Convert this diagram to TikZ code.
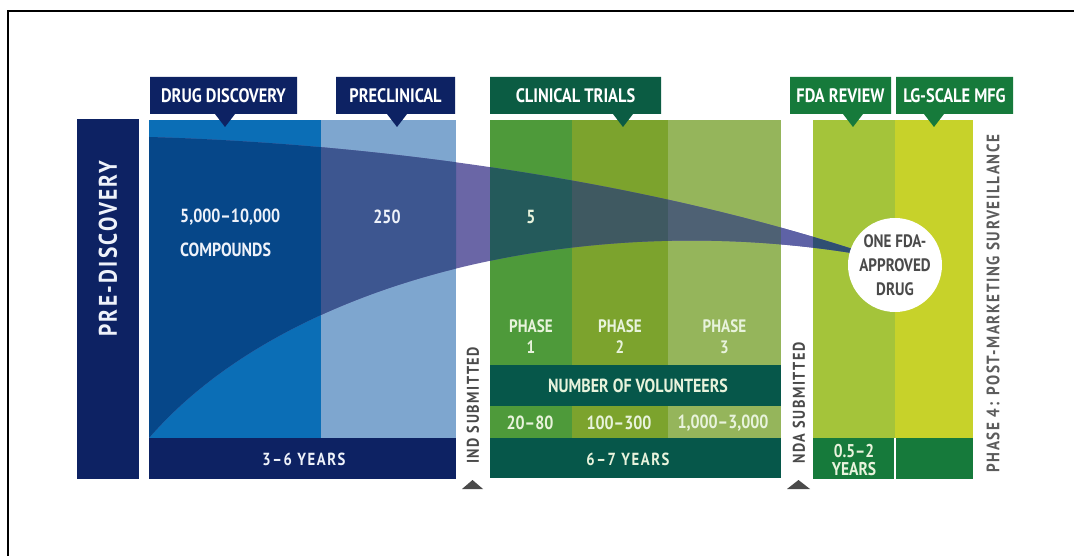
\documentclass[tikz,border=0pt]{standalone}
\usepackage{fontspec}
\setmainfont{PT Sans}
\newfontfamily\cond{PT Sans}[FakeStretch=0.84]
\newfontfamily\condsp{PT Sans}[FakeStretch=0.84,LetterSpace=9]

% palette
\definecolor{navy}{HTML}{0D2263}
\definecolor{ddblue}{HTML}{0B6EB6}
\definecolor{ddcov}{HTML}{064789}
\definecolor{pcblue}{HTML}{7EA6CF}
\definecolor{pccov}{HTML}{3D5690}
\definecolor{gapcov}{HTML}{6A66A6}
\definecolor{pone}{HTML}{4E9A3A}
\definecolor{ponecov}{HTML}{245A5B}
\definecolor{ptwo}{HTML}{7CA32D}
\definecolor{ptwocov}{HTML}{3F5961}
\definecolor{pthree}{HTML}{95B55B}
\definecolor{pthreecov}{HTML}{4E6174}
\definecolor{gapcovb}{HTML}{5E62A6}
\definecolor{fdagreen}{HTML}{A4C43A}
\definecolor{fdacov}{HTML}{2F4F72}
\definecolor{lggreen}{HTML}{C7D22A}
\definecolor{teal}{HTML}{06574A}
\definecolor{ctgreen}{HTML}{0B5C43}
\definecolor{hdgreen}{HTML}{167A3B}
\definecolor{bluetext}{HTML}{EEF2FA}
\definecolor{greentext}{HTML}{E8F3DC}
\definecolor{darkgraytext}{HTML}{4A4A4A}
\definecolor{sidegray}{HTML}{5C5C5C}

% band of compounds narrowing to the approved drug
\def\funnelpath{(149,137) .. controls (330,142) and (620,170) .. (880,258)
  .. controls (600,205) and (290,275) .. (149,438) -- cycle}

% header tab with a downward pointer: name, left, right, pointer x, colour, text
\newcommand\hdrtab[6]{%
  \fill[#5] (#2,77) -- (#3,77) -- (#3,114) -- ({#4+10},114) -- (#4,127)
    -- ({#4-10},114) -- (#2,114) -- cycle;
  \node[hdrtext] (#1) at ({(#2+#3)/2},95.5) {#6};}

% funnel section clipped to one column: left, right, colour
\newcommand\covered[3]{%
  \begin{scope}
    \clip (#1,120) rectangle (#2,438);
    \fill[#3] \funnelpath;
  \end{scope}}

\begin{document}
\begin{tikzpicture}[x=1pt,y=-1pt,
  hdrtext/.style={text=white, font=\cond\bfseries\fontsize{19.5}{21}\selectfont, inner sep=0pt},
  coltext/.style={text=#1, font=\cond\bfseries\fontsize{19}{21}\selectfont, inner sep=0pt},
  phasetext/.style={text=greentext, font=\cond\bfseries\fontsize{18}{21}\selectfont, inner sep=0pt, align=center},
  yeartext/.style={text=#1, font=\condsp\bfseries\fontsize{17.5}{21}\selectfont, inner sep=0pt},
  sidetext/.style={text=darkgraytext, font=\condsp\bfseries\fontsize{17}{18}\selectfont, inner sep=0pt, rotate=90},
  marker/.style={fill=darkgraytext}]
\useasboundingbox (0,0) rectangle (1074,556);
\fill[white] (0,0) rectangle (1074,556);
\draw[line width=2pt] (8,556) -- (8,11) -- (1074,11);

% pre-discovery bar
\fill[navy] (77,119) rectangle (139,479);
\node[text=bluetext, font=\condsp\bfseries\fontsize{25.5}{28}\selectfont, inner sep=0pt, rotate=90]
  (pre) at (108,248.5) {PRE-DISCOVERY};

% discovery and preclinical columns
\fill[ddblue] (149,120) rectangle (321,438);
\fill[pcblue] (321,120) rectangle (456,438);
\fill[navy] (149,438) rectangle (456,479);

% clinical trial columns
\fill[pone] (490,120) rectangle (572,438);
\fill[ptwo] (572,120) rectangle (668,438);
\fill[pthree] (668,120) rectangle (781,438);
\fill[teal] (490,365) rectangle (781,406);
\fill[teal] (490,438) rectangle (781,478);

% review and manufacturing columns
\fill[fdagreen] (813,120) rectangle (895,438);
\fill[lggreen] (895,120) rectangle (973,438);
\fill[hdgreen] (813,438) rectangle (894.2,479);
\fill[hdgreen] (895.8,438) rectangle (973,479);

% compound band
\fill[gapcov] \funnelpath;
\covered{149}{321}{ddcov}
\covered{321}{456}{pccov}
\covered{490}{572}{ponecov}
\covered{572}{668}{ptwocov}
\covered{668}{781}{pthreecov}
\covered{781}{813}{gapcovb}
\covered{813}{895}{fdacov}

% header tabs
\hdrtab{hdd}{150}{297}{225}{navy}{DRUG DISCOVERY}
\hdrtab{hpc}{336}{455}{397}{navy}{PRECLINICAL}
\hdrtab{hct}{490}{661}{623}{ctgreen}{CLINICAL TRIALS}
\hdrtab{hfda}{790}{891}{853}{hdgreen}{FDA REVIEW}
\hdrtab{hlg}{896}{1013}{934}{hdgreen}{LG-SCALE MFG}

% counts along the band
\node[coltext=bluetext, anchor=west] (cmpa) at (180,217) {5,000–10,000};
\node[coltext=bluetext, anchor=west] (cmpb) at (180,250) {COMPOUNDS};
\node[coltext=bluetext] (c250) at (387,217) {250};
\node[coltext=greentext] (c5) at (531,217) {5};

% phases
\node[phasetext] (ph1) at (531,336.5) {PHASE\\1};
\node[phasetext] (ph2) at (620,336.5) {PHASE\\2};
\node[phasetext] (ph3) at (724.5,336.5) {PHASE\\3};
\node[coltext=greentext] (vol) at (638,386) {NUMBER OF VOLUNTEERS};
\node[coltext=greentext] (v1) at (530,423) {20–80};
\node[coltext=greentext] (v2) at (619,423) {100–300};
\node[coltext=greentext] (v3) at (723,423) {1,000–3,000};

% durations
\node[yeartext=bluetext] (y36) at (304,459) {3–6 YEARS};
\node[yeartext=greentext] (y67) at (628,459) {6–7 YEARS};
\node[text=greentext, font=\cond\bfseries\fontsize{18.5}{18}\selectfont, inner sep=0pt, align=center]
  (yfda) at (854,460) {0.5–2\\YEARS};

% submissions
\node[sidetext] (ind) at (473,405.5) {IND SUBMITTED};
\fill[marker] (462,489) -- (483,489) -- (472.5,480) -- cycle;
\node[sidetext] (nda) at (799,403) {NDA SUBMITTED};
\fill[marker] (787,489) -- (810,489) -- (798.5,480) -- cycle;

% post-marketing
\node[sidetext, text=sidegray, font=\condsp\bfseries\fontsize{18}{18}\selectfont]
  (ph4) at (993,303.5) {PHASE 4: POST-MARKETING SURVEILLANCE};

% approved drug
\node[circle, fill=white, minimum size=94pt, inner sep=0pt, text=darkgraytext,
  font=\cond\bfseries\fontsize{18}{24}\selectfont, align=center]
  (drug) at (895,265) {ONE FDA-\\APPROVED\\DRUG};
\end{tikzpicture}
\end{document}
